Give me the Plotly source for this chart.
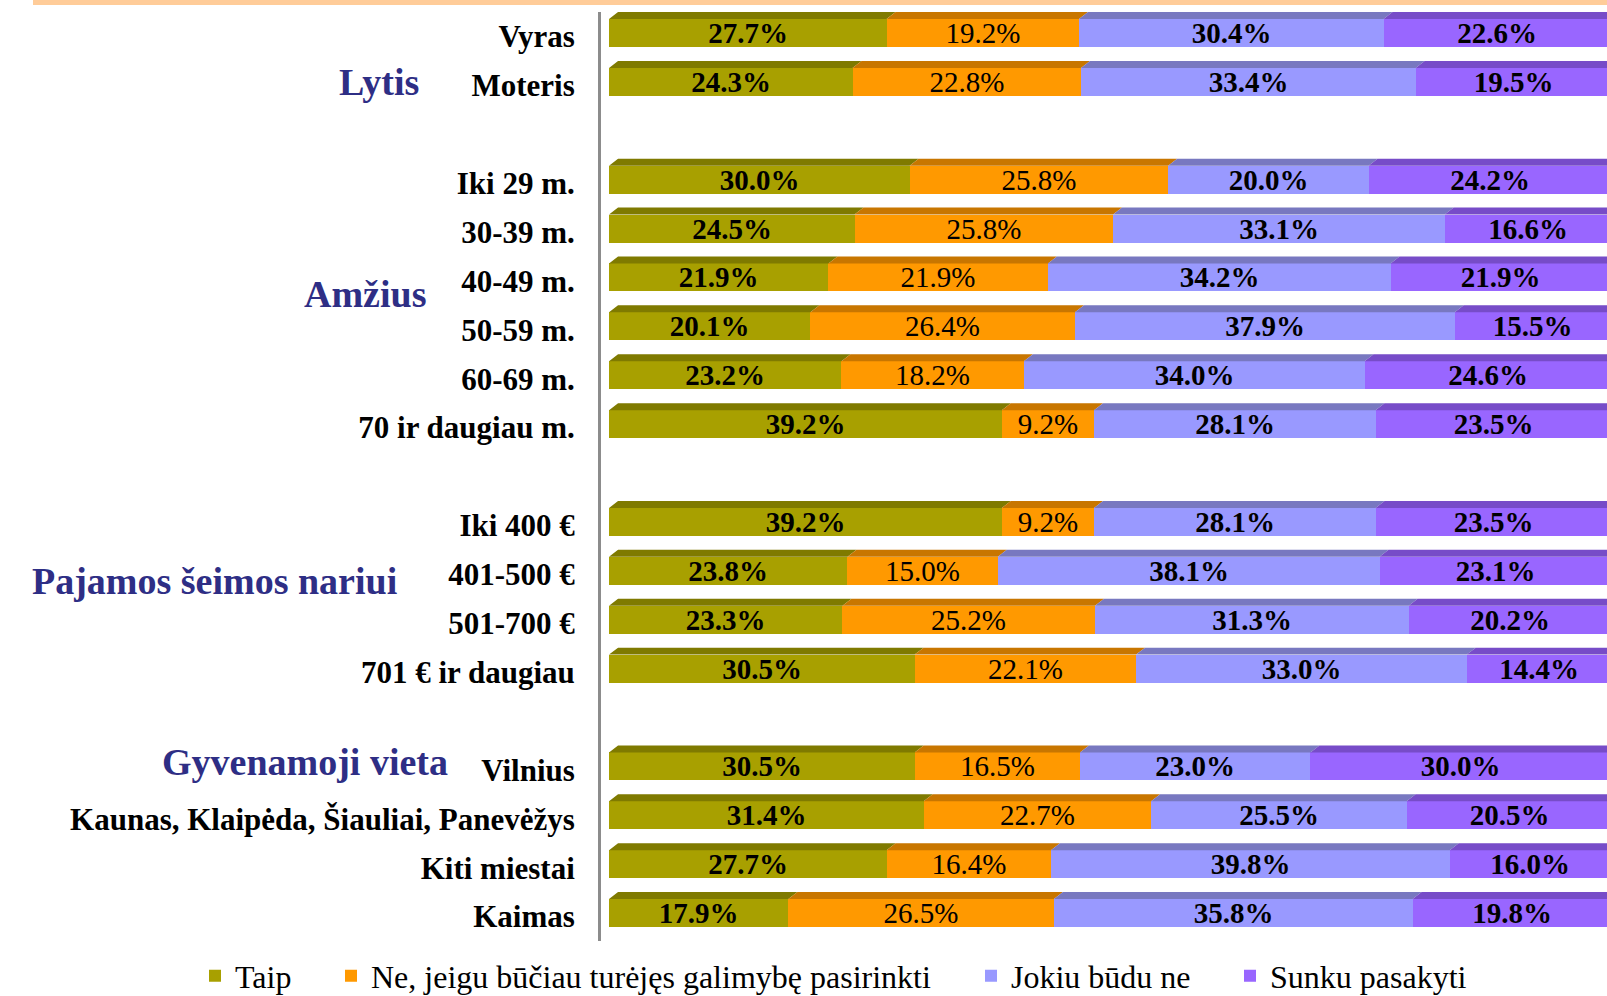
import plotly.graph_objects as go
import numpy as np

# ---------------- data ----------------
group_names = ["Lytis", "Amžius", "Pajamos šeimos nariui", "Gyvenamoji vieta"]
group_items = [
    ["Vyras", "Moteris"],
    ["Iki 29 m.", "30-39 m.", "40-49 m.", "50-59 m.", "60-69 m.", "70 ir daugiau m."],
    ["Iki 400 €", "401-500 €", "501-700 €", "701 € ir daugiau"],
    ["Vilnius", "Kaunas, Klaipėda, Šiauliai, Panevėžys", "Kiti miestai", "Kaimas"],
]
series_names = ["Taip", "Ne, jeigu būčiau turėjęs galimybę pasirinkti", "Jokiu būdu ne", "Sunku pasakyti"]

taip  = [27.7, 24.3, 30.0, 24.5, 21.9, 20.1, 23.2, 39.2, 39.2, 23.8, 23.3, 30.5, 30.5, 31.4, 27.7, 17.9]
ne    = [19.2, 22.8, 25.8, 25.8, 21.9, 26.4, 18.2, 9.2, 9.2, 15.0, 25.2, 22.1, 16.5, 22.7, 16.4, 26.5]
jokiu = [30.4, 33.4, 20.0, 33.1, 34.2, 37.9, 34.0, 28.1, 28.1, 38.1, 31.3, 33.0, 23.0, 25.5, 39.8, 35.8]
sunku = [22.6, 19.5, 24.2, 16.6, 21.9, 15.5, 24.6, 23.5, 23.5, 23.1, 20.2, 14.4, 30.0, 20.5, 16.0, 19.8]

# ---------------- style ----------------
W, H = 1607, 996
FONT = "Liberation Serif"
front_cols = ["#A8A000", "#FF9900", "#9999FF", "#9966FF"]
top_cols   = ["#7F7A00", "#C87600", "#7878C0", "#774CC8"]
text_weights = ["bold", "normal", "bold", "bold"]
NAVY = "#2E2E85"

# plot area in pixels
PX_L, PX_R, PX_T, PX_B = 601, 1607, 12, 941
X_RANGE = [-0.8, 99.6]

# bar geometry (in row units; pitch = 1 slot)
FRONT_OFF, FRONT_W = -0.357, 0.573   # front face
TOP_H = 0.143                         # bevel height
DEPTH_X = 0.9                         # bevel horizontal shift (x units)

# rows: one blank slot between groups
rows, labels = [], []
pos = 0
for items in group_items:
    for it in items:
        rows.append(pos); labels.append(it)
        pos += 1
    pos += 1
last_row = max(rows)

series = [taip, ne, jokiu, sunku]
rows_a = np.array(rows, dtype=float)

fig = go.Figure()

# bevel (top face) as parallelograms
cum = np.zeros(len(rows))
for s, vals in enumerate(series):
    v = np.array(vals)
    xs, ys = [], []
    for r, c0, c1 in zip(rows_a, cum, cum + v):
        yf = r + FRONT_OFF
        xs += [c0, c1, c1 + DEPTH_X, c0 + DEPTH_X, c0, None]
        ys += [yf, yf, yf - TOP_H, yf - TOP_H, yf, None]
    fig.add_trace(go.Scatter(x=xs, y=ys, mode="lines", fill="toself",
                             fillcolor=top_cols[s], line=dict(width=0),
                             showlegend=False, hoverinfo="skip"))
    cum = cum + v

# front faces
for s, vals in enumerate(series):
    fig.add_trace(go.Bar(
        x=vals, y=rows, orientation="h", name=series_names[s],
        marker=dict(color=front_cols[s], line=dict(width=0)),
        width=FRONT_W, offset=FRONT_OFF,
        text=[f"{v:.1f}%" for v in vals], textposition="inside",
        insidetextanchor="middle", textangle=0, constraintext="none",
        textfont=dict(family=FONT, size=29, color="black", weight=text_weights[s]),
        legend="legend" if s == 0 else f"legend{s+1}",
        customdata=labels, hovertemplate="%{customdata}: %{x:.1f}%<extra>" + series_names[s] + "</extra>",
    ))

# group labels
group_label_y = [0.93, 5.27, 11.13, 14.84]
group_label_right = [421, 428, 399, 450]
annotations = []
for name, gy, gx in zip(group_names, group_label_y, group_label_right):
    annotations.append(dict(text=name, xref="paper", yref="y", x=gx / W, y=gy,
                            xanchor="right", yanchor="middle", showarrow=False,
                            font=dict(family=FONT, size=38, color=NAVY, weight="bold")))

legend_x = [195, 331, 971, 1230]
legend_common = dict(orientation="h", yanchor="middle", y=1 - 976 / H, xanchor="left",
                     font=dict(family=FONT, size=32, color="black"),
                     bgcolor="rgba(0,0,0,0)", itemclick=False)

fig.update_layout(
    width=W, height=H,
    margin=dict(l=0, r=0, t=0, b=0, autoexpand=False),
    paper_bgcolor="white", plot_bgcolor="white",
    barmode="stack", bargap=0,
    xaxis=dict(domain=[PX_L / W, PX_R / W], range=X_RANGE, visible=False, fixedrange=True),
    yaxis=dict(domain=[1 - PX_B / H, 1 - PX_T / H], range=[last_row + 0.5, -0.5],
               tickvals=rows, ticktext=labels, ticks="", showgrid=False, zeroline=False,
               showline=True, linecolor="#8C8C8C", linewidth=3,
               ticklabelstandoff=17, automargin=False,
               tickfont=dict(family=FONT, size=31, color="black", weight="bold")),
    annotations=annotations,
    shapes=[dict(type="rect", xref="paper", yref="paper", x0=33 / W, x1=1, y0=1 - 5 / H, y1=1,
                 fillcolor="#FFCC99", line=dict(width=0), layer="below")],
    legend=dict(x=legend_x[0] / W, **legend_common),
    legend2=dict(x=legend_x[1] / W, **legend_common),
    legend3=dict(x=legend_x[2] / W, **legend_common),
    legend4=dict(x=legend_x[3] / W, **legend_common),
    showlegend=True,
)

fig.write_html("out.html", config={"displayModeBar": False},
               post_script="document.body.style.margin='0';document.body.style.overflow='hidden';")
